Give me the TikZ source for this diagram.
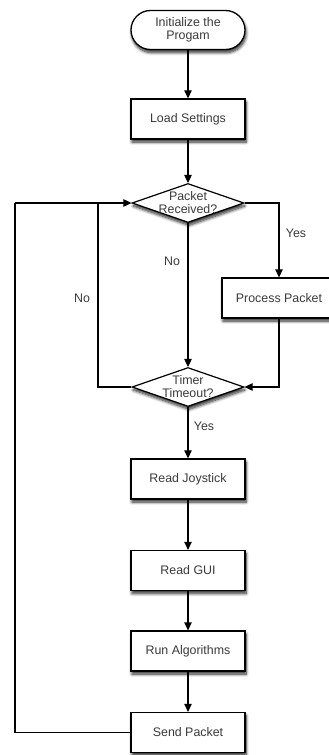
\documentclass[tikz,border=0pt]{standalone}
\usepackage{fontspec}
\setmainfont{Liberation Sans}
\usetikzlibrary{arrows.meta,shapes.geometric,shadows.blur}
\definecolor{txt}{HTML}{3a3a3a}
\begin{document}
\begin{tikzpicture}[x=1pt,y=-1pt,
  font=\fontsize{12.4}{13}\selectfont,
  every node/.style={text=txt},
  shade/.style={blur shadow={shadow xshift=1pt,shadow yshift=-3pt,shadow blur radius=3pt,shadow blur steps=8,shadow opacity=85}},
  stepbox/.style={draw=black,line width=1.3pt,fill=white,minimum width=114pt,minimum height=40pt,inner sep=0pt,shade},
  termbox/.style={stepbox,rounded corners=19.5pt,minimum height=39pt,align=center},
  decide/.style={draw=black,line width=1.2pt,fill=white,diamond,minimum width=112pt,minimum height=39pt,inner sep=0pt,shade},
  flow/.style={line width=1.1pt,-{Triangle[length=8pt,width=7.5pt]}},
  plain/.style={line width=1.1pt},
  lbl/.style={inner sep=0pt}]
\useasboundingbox (0,0) rectangle (329,755);

% process steps
\node[termbox] (init) at (188,30) {Initialize the\\Progam};
\node[stepbox] (load) at (188,119) {Load Settings};
\node[decide,label={[align=center,text=txt]center:Packet\\Received?}] (recv) at (188,203) {};
\node[stepbox] (proc) at (279,298) {Process Packet};
\node[decide,label={[align=center,text=txt]center:Timer\\Timeout?}] (timer) at (188,387) {};
\node[stepbox] (joy) at (188,479) {Read Joystick};
\node[stepbox] (gui) at (188,570.5) {Read GUI};
\node[stepbox] (alg) at (188,651) {Run Algorithms};
\node[stepbox] (send) at (188,732.5) {Send Packet};

% loop corners
\coordinate (inner) at (98,203);
\coordinate (outer) at (15,203);

% connectors
\draw[flow] (init) -- (load);
\draw[flow] (load) -- (recv);
\draw[flow] (recv.east) -| (proc.north);
\draw[flow] (recv.south) -- (timer.north);
\draw[flow] (proc.south) |- (timer.east);
\draw[plain] (timer.west) -| (inner);
\draw[plain] (send.west) -| (outer);
\draw[flow] (outer) -- (recv.west);
\draw[flow] (timer.south) -- (joy.north);
\draw[flow] (joy) -- (gui);
\draw[flow] (gui) -- (alg);
\draw[flow] (alg) -- (send);

% branch labels
\node[lbl] (yes1) at (296,233) {Yes};
\node[lbl] (no1) at (172,261) {No};
\node[lbl] (no2) at (82,298) {No};
\node[lbl] (yes2) at (204,426) {Yes};
\end{tikzpicture}
\end{document}
